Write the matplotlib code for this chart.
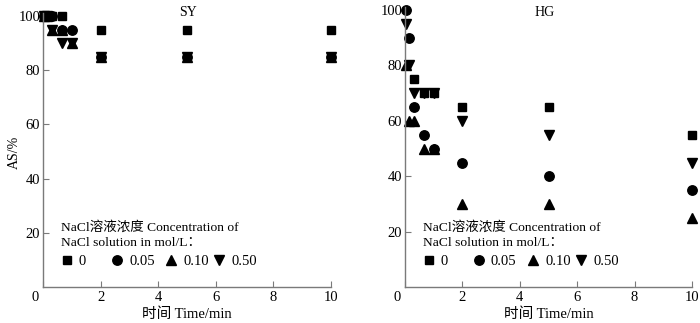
import numpy as np
import matplotlib
matplotlib.use("Agg")
import matplotlib.pyplot as plt
from matplotlib.transforms import ScaledTranslation

FONT = ['Liberation Serif', 'Noto Sans CJK SC']
plt.rcParams['font.family'] = FONT
plt.rcParams['font.size'] = 10

nan = np.nan
time_min = [0.05, 0.15, 0.32, 0.65, 1.0, 2, 5, 10]
conc_labels = ['0', '0.05', '0.10', '0.50']
markers = ['s', 'o', '^', 'v']

# SY panel
sy_0 = [100, 100, 100, 100, nan, 95, 95, 95]
sy_005 = [100, 100, 100, 95, 95, 85, 85, 85]
sy_010 = [100, 100, 95, 95, 90, 85, 85, 85]
sy_050 = [100, 100, 95, 90, 90, 85, 85, 85]

# HG panel
hg_0 = [nan, nan, 75, 70, 70, 65, 65, 55]
hg_005 = [100, 90, 65, 55, 50, 45, 40, 35]
hg_010 = [80, 60, 60, 50, 50, 30, 30, 25]
hg_050 = [95, 80, 70, 70, 70, 60, 55, 45]

W, H = 700, 323
fig = plt.figure(figsize=(W / 100, H / 100), dpi=100)

def fx(px):
    return px / W

def fy(py):
    return 1 - py / H

ax1 = fig.add_axes([fx(43), fy(287), fx(331 - 43), fy(13.3) - fy(287)])
ax2 = fig.add_axes([fx(405), fy(287.3), fx(692 - 405), fy(7.2) - fy(287.3)])

msizes = {'s': 5.8, 'o': 6.8, '^': 7.2, 'v': 7.2}
gray = '#7a7a7a'

def style(ax, title, title_x):
    ax.set_xlim(0, 10)
    ax.set_ylim(0, 101)
    ax.set_xticks([0, 2, 4, 6, 8, 10])
    ax.set_yticks([20, 40, 60, 80, 100])
    for s in ['top', 'right']:
        ax.spines[s].set_visible(False)
    for s in ['left', 'bottom']:
        ax.spines[s].set_color(gray)
        ax.spines[s].set_linewidth(1.0)
    ax.tick_params(direction='in', length=4, width=0.8, color=gray,
                   labelsize=10.5, pad=3)
    ax.tick_params(axis='y', pad=2)
    lab = ax.get_xticklabels()[0]
    lab.set_transform(lab.get_transform() + ScaledTranslation(-8 / 100, 0, fig.dpi_scale_trans))
    ax.set_xlabel('时间 Time/min', fontsize=10.5, labelpad=2)
    fig.text(fx(title_x), fy(12), title, ha='center', va='center', fontsize=10)

def draw(ax, series):
    lines = []
    for vals, m in zip(series, markers):
        ln, = ax.plot(time_min, vals, linestyle='none', marker=m, color='black',
                      markersize=msizes[m], clip_on=False)
        lines.append(ln)
    return lines

def legend_block(ax, lines, x0):
    fig.text(fx(x0 + 18), fy(227), 'NaCl溶液浓度 Concentration of', ha='left', va='center', fontsize=9.7)
    fig.text(fx(x0 + 18), fy(243), 'NaCl solution in mol/L：', ha='left', va='center', fontsize=9.7)
    offs = [23.5, 74, 128, 176]
    for ln, lab, o in zip(lines, conc_labels, offs):
        leg = ax.legend([ln], [lab], loc='center left',
                        bbox_to_anchor=(fx(x0 + o - 5.5), fy(261)),
                        bbox_transform=fig.transFigure, frameon=False,
                        borderpad=0, borderaxespad=0, handlelength=0.8,
                        handletextpad=0.4, fontsize=10.5, markerscale=1.0)
        ax.add_artist(leg)
    ax.legend_ = None

l1 = draw(ax1, [sy_0, sy_005, sy_010, sy_050])
l2 = draw(ax2, [hg_0, hg_005, hg_010, hg_050])
style(ax1, 'SY', 188)
style(ax2, 'HG', 545)
fig.text(fx(14), fy(152), 'AS/%', rotation=90, ha='center', va='center', fontsize=10)
legend_block(ax1, l1, 43)
legend_block(ax2, l2, 405)

fig.savefig('out.png', dpi=100)
